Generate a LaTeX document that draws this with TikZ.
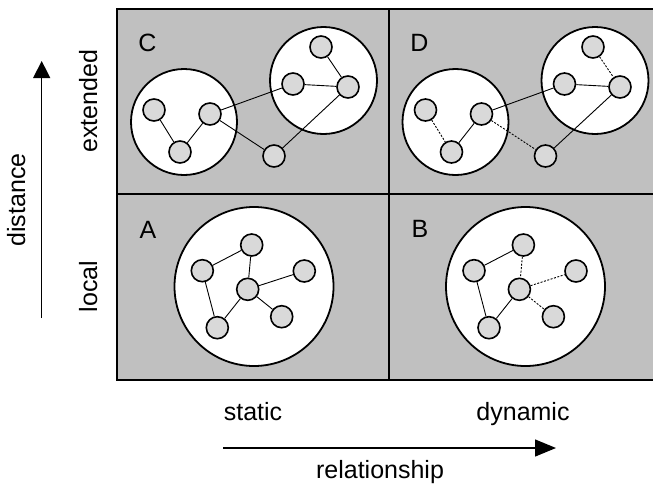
\documentclass[tikz,border=0pt]{standalone}
\usepackage{fontspec}
\setmainfont{Liberation Sans}
\usetikzlibrary{arrows.meta}
\definecolor{panelgray}{RGB}{192,192,192}
\definecolor{nodegray}{RGB}{217,217,217}
\tikzset{
  panel/.style={draw=black, line width=2pt, fill=panelgray},
  group/.style={circle, draw=black, line width=1.8pt, fill=white, inner sep=0pt},
  agent/.style={circle, draw=black, line width=1.6pt, fill=nodegray, minimum size=22pt, inner sep=0pt},
  tie/.style={draw=black, line width=0.9pt},
  loose/.style={draw=black, line width=0.9pt, dash pattern=on 2pt off 1.5pt},
  lbl/.style={font=\fontsize{25}{30}\selectfont, inner sep=0pt},
}
\begin{document}
\begin{tikzpicture}[x=1pt,y=-1pt]
\useasboundingbox (0,0) rectangle (653,490);
% panels
\path[panel] (117,9) rectangle (655,380);
\draw[line width=2pt] (389,9) -- (389,380);
\draw[line width=2pt] (117,194) -- (655,194);

% letters
\node[lbl] (lC) at (147.5,42.5) {C};
\node[lbl] (lD) at (419.5,42.5) {D};
\node[lbl] (lA) at (148,230) {A};
\node[lbl] (lB) at (420,229) {B};

% ---------- C ----------
\node[group, minimum size=106pt] (CL) at (184,122) {};
\node[group, minimum size=107pt] (CR) at (323.5,80.5) {};
\node[agent] (c1) at (154,110) {};
\node[agent] (c2) at (180,152) {};
\node[agent] (c3) at (210,114) {};
\node[agent] (c4) at (274,156) {};
\node[agent] (c5) at (293,84) {};
\node[agent] (c6) at (321,47) {};
\node[agent] (c7) at (348,87) {};
\draw[tie] (c1) -- (c2);
\draw[tie] (c2) -- (c3);
\draw[tie] (c3) -- (c5);
\draw[tie] (c3) -- (c4);
\draw[tie] (c4) -- (c7);
\draw[tie] (c5) -- (c7);
\draw[tie] (c6) -- (c7);

% ---------- D ----------
\node[group, minimum size=106pt] (DL) at (455.5,122) {};
\node[group, minimum size=107pt] (DR) at (595,80.5) {};
\node[agent] (d1) at (425.5,110) {};
\node[agent] (d2) at (451.5,152) {};
\node[agent] (d3) at (481.5,114) {};
\node[agent] (d4) at (545.5,156) {};
\node[agent] (d5) at (564.5,84) {};
\node[agent] (d6) at (593,47) {};
\node[agent] (d7) at (620,87) {};
\draw[loose] (d1) -- (d2);
\draw[tie] (d2) -- (d3);
\draw[tie] (d3) -- (d5);
\draw[loose] (d3) -- (d4);
\draw[tie] (d4) -- (d7);
\draw[tie] (d5) -- (d7);
\draw[loose] (d6) -- (d7);

% ---------- A ----------
\node[group, minimum size=159pt] (AC) at (254,286.5) {};
\node[agent] (a1) at (251.7,245) {};
\node[agent] (a2) at (202.3,270.7) {};
\node[agent] (a3) at (304.3,271) {};
\node[agent] (a4) at (247.7,289.3) {};
\node[agent] (a5) at (281.7,316.7) {};
\node[agent] (a6) at (217.3,327.7) {};
\draw[tie] (a2) -- (a1);
\draw[tie] (a1) -- (a4);
\draw[tie] (a4) -- (a3);
\draw[tie] (a4) -- (a5);
\draw[tie] (a4) -- (a6);
\draw[tie] (a2) -- (a6);

% ---------- B ----------
\node[group, minimum size=159pt] (BC) at (525.5,286.5) {};
\node[agent] (b1) at (523.4,245) {};
\node[agent] (b2) at (474,270.7) {};
\node[agent] (b3) at (576,271) {};
\node[agent] (b4) at (519.4,289.3) {};
\node[agent] (b5) at (553.4,316.7) {};
\node[agent] (b6) at (489,327.7) {};
\draw[tie] (b2) -- (b1);
\draw[loose] (b1) -- (b4);
\draw[loose] (b4) -- (b3);
\draw[loose] (b4) -- (b5);
\draw[tie] (b4) -- (b6);
\draw[tie] (b2) -- (b6);

% ---------- axes ----------
\node[lbl, anchor=base] (tstatic) at (253,420) {static};
\node[lbl, anchor=base] (tdynamic) at (523,420) {dynamic};
\node[lbl, anchor=base] (trel) at (380,478) {relationship};
\coordinate (hx0) at (223,448);
\coordinate (hx1) at (556,448);
\draw[line width=1.3pt, -{Triangle[length=21pt,width=17pt]}] (hx0) -- (hx1);

\node[lbl, anchor=base, rotate=90] (tdist) at (25,200) {distance};
\node[lbl, anchor=base, rotate=90] (text) at (97,101) {extended};
\node[lbl, anchor=base, rotate=90] (tloc) at (97,286.5) {local};
\coordinate (vy0) at (41.7,318);
\coordinate (vy1) at (41.7,61);
\draw[line width=1.3pt, -{Triangle[length=17pt,width=17pt]}] (vy0) -- (vy1);
\end{tikzpicture}
\end{document}
